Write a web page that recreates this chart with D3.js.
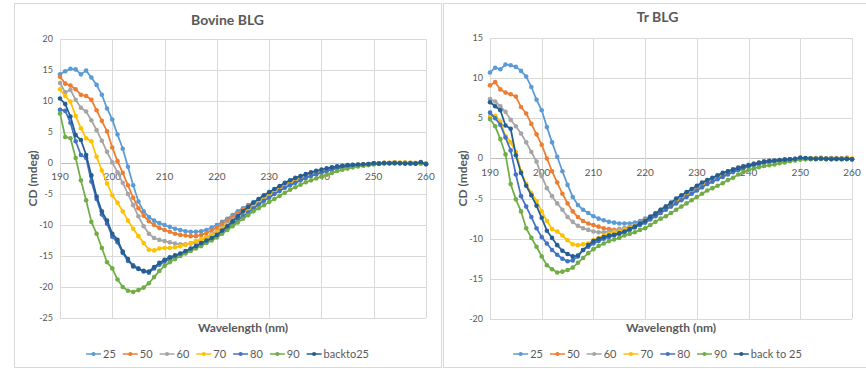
<!DOCTYPE html>
<html>
<head>
<meta charset="utf-8">
<script src="https://cdn.jsdelivr.net/npm/d3@7"></script>
<style>
  body { margin: 0; background: #fff; }
  text { font-family: Lato, "Open Sans", sans-serif; fill: #595959; }
</style>
</head>
<body>
<div id="diagram_cd"></div>
<script>
//****************************************************************************
//Data (CD spectra, mdeg at 1 nm steps)

const wavelengths = d3.range(190, 261, 1)
const xTicks = [190, 200, 210, 220, 230, 240, 250, 260]
const yTicksBovine = [-25, -20, -15, -10, -5, 0, 5, 10, 15, 20]
const yTicksTr = [-20, -15, -10, -5, 0, 5, 10, 15]

const namesBovine = ["25", "50", "60", "70", "80", "90", "backto25"]
const namesTr = ["25", "50", "60", "70", "80", "90", "back to 25"]
const seriesColors = ["#5B9BD5", "#ED7D31", "#A5A5A5", "#FFC000", "#4472C4", "#70AD47", "#255E91"]

const bovine25 = [
  14.3,14.8,15.2,15.1,14.3,14.9,13.8,12.6,11.0,8.8,
  7.0,4.6,2.3,-0.6,-3.6,-6.2,-7.8,-8.7,-9.3,-9.7,
  -10.0,-10.3,-10.6,-10.8,-11.0,-11.1,-11.1,-11.0,-10.8,-10.4,
  -10.0,-9.5,-9.0,-8.4,-7.8,-7.3,-6.8,-6.3,-5.8,-5.3,
  -4.8,-4.4,-3.9,-3.5,-3.1,-2.7,-2.3,-2.0,-1.7,-1.45,
  -1.25,-1.0,-0.8,-0.65,-0.5,-0.4,-0.35,-0.3,-0.25,-0.15,
  -0.05,-0.1,0.0,-0.05,0.05,0.0,-0.05,0.0,-0.1,0.05,
  -0.15]
const bovine50 = [
  13.9,12.8,12.5,11.9,11.0,10.8,10.2,8.5,6.8,5.1,
  2.5,0.3,-1.6,-3.6,-5.6,-7.3,-8.5,-9.4,-10.0,-10.5,
  -10.8,-11.1,-11.4,-11.6,-11.7,-11.8,-11.8,-11.6,-11.3,-10.9,
  -10.4,-9.9,-9.3,-8.7,-8.1,-7.5,-7.0,-6.5,-6.0,-5.5,
  -5.0,-4.5,-4.1,-3.6,-3.2,-2.8,-2.4,-2.1,-1.8,-1.55,
  -1.3,-1.05,-0.85,-0.7,-0.55,-0.45,-0.4,-0.3,-0.25,-0.2,
  -0.1,-0.05,0.05,0.0,0.1,0.05,0.0,0.05,-0.05,0.0,
  -0.1]
const bovine60 = [
  12.9,11.4,11.8,10.2,8.9,8.3,6.9,5.3,3.6,1.8,
  0.1,-1.5,-3.2,-5.0,-6.8,-8.6,-10.2,-11.4,-12.1,-12.4,
  -12.6,-12.8,-13.0,-13.1,-13.1,-13.0,-12.8,-12.4,-12.0,-11.5,
  -11.0,-10.4,-9.8,-9.1,-8.5,-7.9,-7.3,-6.8,-6.2,-5.7,
  -5.2,-4.7,-4.2,-3.8,-3.3,-2.9,-2.5,-2.2,-1.9,-1.6,
  -1.4,-1.15,-0.95,-0.8,-0.6,-0.5,-0.4,-0.35,-0.3,-0.2,
  -0.1,-0.1,0.0,0.0,0.05,0.0,-0.05,0.0,-0.1,0.0,
  -0.1]
const bovine70 = [
  11.9,10.8,9.9,7.6,5.6,4.0,3.5,1.0,-1.2,-3.3,
  -5.2,-6.4,-7.8,-9.3,-10.6,-11.8,-12.9,-14.0,-14.1,-13.8,
  -13.7,-13.7,-13.6,-13.4,-13.2,-12.9,-12.6,-12.3,-12.0,-11.6,
  -11.2,-10.6,-10.0,-9.4,-8.7,-8.1,-7.5,-6.9,-6.4,-5.8,
  -5.3,-4.8,-4.3,-3.9,-3.4,-3.0,-2.6,-2.3,-2.0,-1.7,
  -1.45,-1.2,-1.0,-0.8,-0.65,-0.5,-0.45,-0.35,-0.3,-0.2,
  -0.1,-0.05,0.0,0.05,0.1,0.05,0.1,0.0,0.05,-0.05,
  -0.1]
const bovine80 = [
  8.6,8.4,6.5,3.5,1.3,0.8,-3.0,-5.8,-8.3,-9.8,
  -11.9,-12.8,-14.5,-15.8,-16.5,-17.0,-17.5,-17.7,-17.0,-16.4,
  -15.9,-15.5,-15.1,-14.7,-14.4,-14.0,-13.6,-13.2,-12.8,-12.3,
  -11.8,-11.2,-10.5,-9.9,-9.2,-8.6,-8.0,-7.3,-6.7,-6.1,
  -5.6,-5.0,-4.5,-4.0,-3.6,-3.2,-2.8,-2.4,-2.1,-1.8,
  -1.55,-1.3,-1.05,-0.85,-0.7,-0.55,-0.45,-0.35,-0.3,-0.2,
  -0.1,-0.1,-0.05,0.0,0.0,-0.05,0.0,-0.1,-0.05,0.0,
  -0.15]
const bovine90 = [
  8.0,4.2,4.0,0.8,-2.8,-6.0,-9.5,-11.4,-13.7,-16.0,
  -17.0,-18.8,-20.0,-20.6,-20.8,-20.5,-20.1,-19.4,-18.4,-17.4,
  -16.6,-16.0,-15.5,-15.0,-14.6,-14.2,-13.8,-13.4,-12.9,-12.5,
  -12.0,-11.4,-10.8,-10.2,-9.6,-9.0,-8.4,-7.8,-7.3,-6.8,
  -6.3,-5.8,-5.3,-4.8,-4.3,-3.9,-3.5,-3.1,-2.8,-2.5,
  -2.2,-1.9,-1.6,-1.3,-1.1,-0.9,-0.7,-0.55,-0.45,-0.35,
  -0.25,-0.15,-0.1,-0.05,-0.1,-0.05,0.0,-0.1,-0.05,-0.1,
  -0.15]
const bovineBack = [
  10.4,9.5,7.5,4.5,3.7,1.3,-2.0,-5.4,-7.8,-9.3,
  -11.4,-12.4,-14.3,-15.5,-16.7,-17.1,-17.4,-17.5,-16.8,-16.1,
  -15.6,-15.2,-14.9,-14.6,-14.2,-13.8,-13.4,-12.9,-12.5,-12.1,
  -11.6,-10.9,-10.2,-9.4,-8.6,-7.8,-7.1,-6.4,-5.8,-5.2,
  -4.7,-4.2,-3.7,-3.2,-2.8,-2.4,-2.1,-1.8,-1.5,-1.25,
  -1.05,-0.85,-0.7,-0.55,-0.45,-0.35,-0.3,-0.25,-0.2,-0.15,
  -0.05,-0.1,0.0,-0.05,0.0,-0.05,-0.1,-0.05,-0.1,0.15,
  -0.2]

const tr25 = [
  10.7,11.3,11.1,11.7,11.6,11.4,10.9,10.2,8.9,7.3,
  6.0,3.9,2.0,0.2,-1.6,-3.3,-4.8,-5.8,-6.4,-6.8,
  -7.2,-7.5,-7.7,-7.9,-8.0,-8.1,-8.1,-8.1,-8.0,-7.8,
  -7.5,-7.2,-6.8,-6.4,-6.0,-5.6,-5.2,-4.8,-4.4,-4.0,
  -3.6,-3.2,-2.8,-2.5,-2.2,-1.9,-1.6,-1.35,-1.1,-0.95,
  -0.8,-0.65,-0.5,-0.4,-0.35,-0.3,-0.2,-0.15,-0.1,-0.05,
  0.0,-0.05,-0.1,0.0,-0.05,0.0,-0.05,0.0,-0.05,0.0,
  -0.1]
const tr50 = [
  9.1,9.5,8.6,8.2,8.0,7.7,6.4,5.6,4.3,3.0,
  1.7,0.0,-1.6,-3.0,-4.4,-5.6,-6.6,-7.3,-7.8,-8.1,
  -8.3,-8.5,-8.7,-8.8,-8.9,-8.8,-8.7,-8.6,-8.4,-8.1,
  -7.7,-7.3,-6.9,-6.5,-6.1,-5.7,-5.3,-4.9,-4.5,-4.1,
  -3.7,-3.3,-2.9,-2.6,-2.3,-2.0,-1.7,-1.45,-1.2,-1.0,
  -0.85,-0.7,-0.55,-0.45,-0.35,-0.3,-0.25,-0.15,-0.1,-0.1,
  0.0,-0.05,0.0,0.05,-0.05,0.0,0.05,-0.05,0.0,0.05,
  -0.05]
const tr60 = [
  7.4,7.1,6.5,5.8,4.8,4.0,3.1,2.0,0.8,-0.4,
  -2.2,-3.7,-4.7,-5.6,-6.4,-7.3,-7.9,-8.4,-8.7,-8.9,
  -9.1,-9.2,-9.2,-9.1,-9.0,-8.9,-8.7,-8.5,-8.3,-8.0,
  -7.7,-7.3,-7.0,-6.6,-6.2,-5.8,-5.4,-5.0,-4.6,-4.2,
  -3.8,-3.4,-3.0,-2.7,-2.4,-2.1,-1.8,-1.5,-1.25,-1.05,
  -0.9,-0.75,-0.6,-0.5,-0.4,-0.3,-0.25,-0.2,-0.15,-0.1,
  -0.05,-0.05,0.0,-0.05,0.0,-0.1,-0.05,0.0,-0.05,0.0,
  -0.1]
const tr70 = [
  5.2,5.3,4.6,2.8,2.0,0.8,-1.6,-3.2,-4.3,-5.3,
  -6.6,-7.8,-8.8,-9.1,-9.6,-10.2,-10.7,-10.8,-10.7,-10.6,
  -10.2,-9.9,-9.6,-9.4,-9.2,-9.1,-8.9,-8.7,-8.5,-8.2,
  -7.9,-7.5,-7.1,-6.7,-6.3,-5.9,-5.5,-5.1,-4.7,-4.3,
  -3.9,-3.5,-3.1,-2.8,-2.5,-2.2,-1.9,-1.6,-1.35,-1.15,
  -0.95,-0.8,-0.65,-0.5,-0.4,-0.35,-0.25,-0.2,-0.15,-0.1,
  -0.05,0.0,-0.05,0.05,0.1,0.0,-0.05,0.05,0.0,0.1,
  -0.05]
const tr80 = [
  5.7,5.0,4.2,2.6,1.0,-2.0,-4.7,-6.0,-7.3,-8.7,
  -9.8,-10.6,-11.4,-12.0,-12.5,-12.8,-12.7,-12.2,-11.4,-11.0,
  -10.6,-10.3,-10.0,-9.8,-9.6,-9.4,-9.2,-8.9,-8.6,-8.3,
  -8.0,-7.6,-7.2,-6.8,-6.4,-6.0,-5.6,-5.2,-4.8,-4.4,
  -4.0,-3.6,-3.2,-2.9,-2.6,-2.3,-2.0,-1.7,-1.45,-1.2,
  -1.0,-0.85,-0.7,-0.55,-0.45,-0.35,-0.3,-0.2,-0.15,-0.1,
  -0.05,-0.05,0.0,-0.05,0.0,-0.05,0.0,-0.05,0.0,-0.05,
  -0.1]
const tr90 = [
  4.9,4.0,2.4,0.5,-3.2,-5.1,-6.6,-8.7,-9.9,-11.0,
  -12.2,-13.3,-13.8,-14.2,-14.1,-13.9,-13.6,-13.0,-12.4,-11.8,
  -11.3,-10.9,-10.6,-10.3,-10.1,-9.9,-9.6,-9.4,-9.2,-8.9,
  -8.7,-8.3,-7.9,-7.5,-7.2,-6.8,-6.4,-6.0,-5.6,-5.2,
  -4.8,-4.4,-4.0,-3.7,-3.4,-3.1,-2.7,-2.4,-2.0,-1.7,
  -1.45,-1.25,-1.1,-0.95,-0.85,-0.75,-0.6,-0.5,-0.35,-0.25,
  -0.15,-0.1,-0.05,-0.1,-0.05,-0.1,-0.05,-0.1,-0.05,-0.1,
  -0.1]
const trBack = [
  7.0,6.5,6.0,4.1,3.7,0.4,-1.8,-3.4,-4.6,-5.9,
  -7.4,-9.0,-9.9,-10.8,-11.5,-11.9,-12.2,-12.1,-11.4,-10.8,
  -10.3,-10.0,-9.8,-9.6,-9.5,-9.3,-9.1,-8.8,-8.5,-8.1,
  -7.8,-7.3,-6.9,-6.4,-6.0,-5.5,-5.0,-4.6,-4.2,-3.8,
  -3.4,-3.0,-2.7,-2.4,-2.1,-1.8,-1.6,-1.4,-1.2,-1.0,
  -0.85,-0.7,-0.55,-0.4,-0.3,-0.25,-0.2,-0.15,-0.1,-0.05,
  0.1,0.05,0.0,-0.05,0.0,-0.05,-0.1,-0.05,-0.1,-0.05,
  -0.1]

//****************************************************************************
//svg

const canvWidth = 866
const canvHeight = 369

const svg = d3.select("#diagram_cd").append("svg")
  .attr("width", canvWidth)
  .attr("height", canvHeight)

//****************************************************************************
//one Excel-like panel

const drawPanel = (cfg) => {
  const g = svg.append("g").attr("class", "panel")

  //chart border
  g.append("rect")
    .attr("x", cfg.box.x + 0.5).attr("y", cfg.box.y + 0.5)
    .attr("width", cfg.box.w).attr("height", cfg.box.h)
    .style("fill", "#fff").style("stroke", "#d9d9d9")

  const xScale = d3.scaleLinear().domain([190, 260]).range([cfg.plot.left, cfg.plot.right])
  const yScale = d3.scaleLinear().domain(cfg.yDomain).range([cfg.plot.bottom, cfg.plot.top])

  //gridlines
  g.append("g").selectAll("line").data(cfg.yTicks).enter().append("line")
    .attr("x1", cfg.plot.left).attr("x2", cfg.plot.right)
    .attr("y1", d => Math.round(yScale(d)) + 0.5).attr("y2", d => Math.round(yScale(d)) + 0.5)
    .style("stroke", d => d === 0 ? "#bfbfbf" : "#d9d9d9").style("stroke-width", 1)
  g.append("g").selectAll("line").data(xTicks).enter().append("line")
    .attr("x1", d => Math.round(xScale(d)) + 0.5).attr("x2", d => Math.round(xScale(d)) + 0.5)
    .attr("y1", cfg.plot.top).attr("y2", cfg.plot.bottom)
    .style("stroke", "#d9d9d9").style("stroke-width", 1)

  //y tick labels
  g.append("g").selectAll("text").data(cfg.yTicks).enter().append("text")
    .attr("x", cfg.plot.left - 7)
    .attr("y", d => yScale(d) + 3)
    .style("text-anchor", "end").style("font-size", "9px")
    .text(d => d)

  //x tick labels (next to the zero axis)
  g.append("g").selectAll("text").data(xTicks).enter().append("text")
    .attr("x", d => xScale(d))
    .attr("y", yScale(0) + cfg.xLabelOffset)
    .style("text-anchor", "middle").style("font-size", "10px")
    .text(d => d)

  //series
  const line = d3.line().x((d, i) => xScale(wavelengths[i])).y(d => yScale(d))
  cfg.series.forEach((values, k) => {
    const s = g.append("g").attr("class", "series")
    s.append("path").datum(values)
      .attr("d", line)
      .style("fill", "none").style("stroke", seriesColors[k])
      .style("stroke-width", 1.75).style("stroke-linejoin", "round")
    s.selectAll("circle").data(values).enter().append("circle")
      .attr("cx", (d, i) => xScale(wavelengths[i]))
      .attr("cy", d => yScale(d))
      .attr("r", 2.3)
      .style("fill", seriesColors[k])
  })

  //titles
  const boxCenter = cfg.box.x + cfg.box.w / 2
  g.append("text")
    .attr("x", boxCenter).attr("y", cfg.titleY)
    .style("text-anchor", "middle").style("font-size", "14px").style("font-weight", "bold")
    .text(cfg.title)

  g.append("text")
    .attr("x", (cfg.plot.left + cfg.plot.right) / 2).attr("y", 332)
    .style("text-anchor", "middle").style("font-size", "12px").style("font-weight", "bold")
    .text("Wavelength (nm)")

  g.append("text")
    .attr("transform", `translate(${cfg.yTitleX},${(cfg.plot.top + cfg.plot.bottom) / 2}) rotate(-90)`)
    .style("text-anchor", "middle").style("font-size", "12px").style("font-weight", "bold")
    .text("CD (mdeg)")

  //legend
  const legend = g.append("g").attr("class", "legend")
  let xPos = 0
  cfg.names.forEach((name, k) => {
    const item = legend.append("g").attr("transform", `translate(${xPos},0)`)
    item.append("line").attr("x1", 0).attr("x2", 15).attr("y1", 0).attr("y2", 0)
      .style("stroke", seriesColors[k]).style("stroke-width", 1.5)
    item.append("circle").attr("cx", 7.5).attr("cy", 0).attr("r", 2.1).style("fill", seriesColors[k])
    const t = item.append("text").attr("x", 17).attr("y", 4)
      .style("font-size", "11px").text(name)
    xPos += 17 + t.node().getComputedTextLength() + 7
  })
  const legendWidth = xPos - 7
  legend.attr("transform", `translate(${boxCenter - legendWidth / 2},354)`)
}

drawPanel({
  box: {x: 14, y: 3, w: 427, h: 364},
  plot: {left: 60, right: 426, top: 39, bottom: 318},
  yDomain: [-25, 20],
  yTicks: yTicksBovine,
  xLabelOffset: 17,
  title: "Bovine BLG",
  titleY: 25,
  yTitleX: 37,
  names: namesBovine,
  series: [bovine25, bovine50, bovine60, bovine70, bovine80, bovine90, bovineBack]
})

drawPanel({
  box: {x: 443, y: 3, w: 429, h: 364},
  plot: {left: 490, right: 852, top: 38, bottom: 319},
  yDomain: [-20, 15],
  yTicks: yTicksTr,
  xLabelOffset: 18,
  title: "Tr BLG",
  titleY: 22,
  yTitleX: 467,
  names: namesTr,
  series: [tr25, tr50, tr60, tr70, tr80, tr90, trBack]
})
</script>
</body>
</html>
